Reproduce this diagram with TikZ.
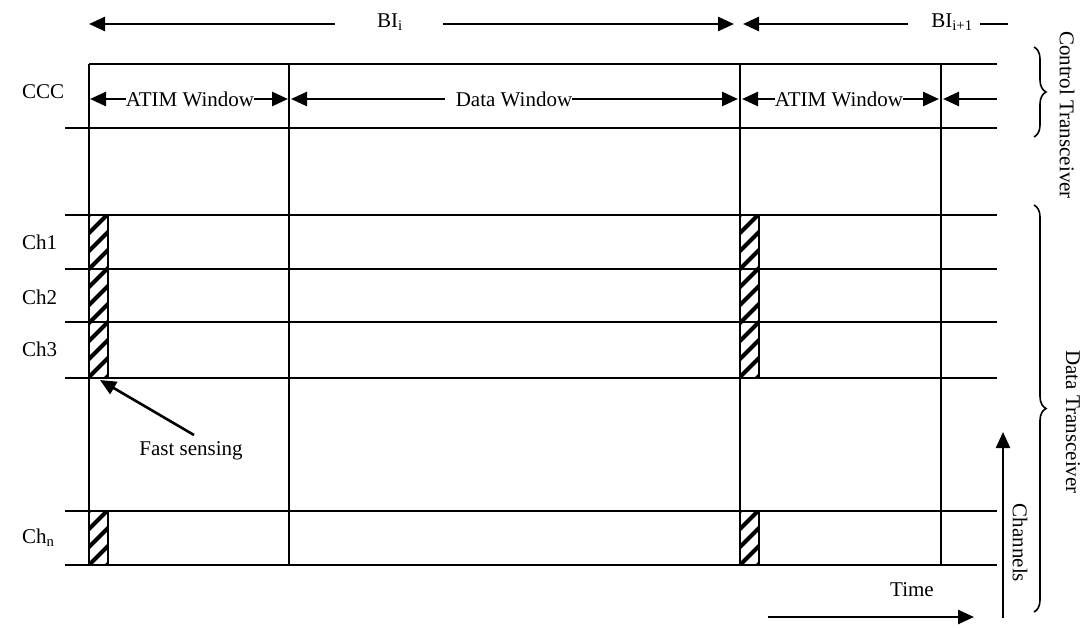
\documentclass[tikz,border=0pt]{standalone}
\usepackage{fontspec}
\setmainfont{Liberation Serif}
\usetikzlibrary{arrows.meta,decorations.pathreplacing}
\begin{document}
\begin{tikzpicture}[x=1pt,y=-1pt,
  grid/.style={line width=1.8pt},
  arr/.style={line width=2.6pt,-{Triangle[length=16pt,width=14pt]}},
  plainline/.style={line width=2.6pt},
  lbl/.style={font=\fontsize{21}{25}\selectfont, inner sep=0pt},
  brc/.style={line width=1.6pt, decorate, decoration={brace, amplitude=12pt}},
  hatch/.style={line width=4pt},
  hbox/.style={line width=1.8pt}]
\useasboundingbox (0,0) rectangle (1083,628);

% ---- grid: horizontal lines
\draw[grid] (89,64) -- (997,64);
\foreach \yy in {128,215,269,322,378,511,565}{
  \draw[grid] (65,\yy) -- (997,\yy);
}
% ---- vertical lines
\foreach \xx in {89,289,740,941}{
  \draw[grid] (\xx,64) -- (\xx,565);
}

% ---- hatched boxes
\foreach \bx in {89,740}{
  \foreach \ya/\yb in {215/378,511/565}{
    \begin{scope}
      \clip (\bx,\ya) rectangle (\bx+19,\yb);
      \foreach \k in {0,18,...,200}{
        \draw[hatch] (\bx-4,\ya+\k+4) -- ++(27,-27);
      }
    \end{scope}
    \draw[hbox] (\bx,\ya) rectangle (\bx+19,\yb);
  }
}

% ---- labels left
\node[lbl, anchor=west] (ccc) at (22,92) {CCC};
\node[lbl, anchor=west] (ch1) at (22,242) {Ch1};
\node[lbl, anchor=west] (ch2) at (22,297) {Ch2};
\node[lbl, anchor=west] (ch3) at (22,349) {Ch3};
\node[lbl, anchor=west] (chn) at (22,538) {Ch\textsubscript{n}};

% ---- BI arrows
\node[lbl] (bii) at (390,22) {BI\textsubscript{i}};
\node[lbl] (biii) at (952,22) {BI\textsubscript{i+1}};
\coordinate (b1s) at (335,24);
\coordinate (b1e) at (89,24);
\coordinate (b2s) at (443,24);
\coordinate (b2e) at (734,24);
\coordinate (b3s) at (908,24);
\coordinate (b3e) at (743,24);
\coordinate (b4s) at (980,24);
\coordinate (b4e) at (1008,24);
\draw[arr] (b1s) -- (b1e);
\draw[arr] (b2s) -- (b2e);
\draw[arr] (b3s) -- (b3e);
\draw[plainline] (b4s) -- (b4e);

% ---- CCC windows
\node[lbl] (atim1) at (190,99) {ATIM Window};
\node[lbl] (data1) at (514,99) {Data Window};
\node[lbl] (atim2) at (839,99) {ATIM Window};
\coordinate (a1l) at (90,99);
\coordinate (a1r) at (288,99);
\coordinate (d1l) at (291,99);
\coordinate (d1ls) at (445,99);
\coordinate (d1r) at (738,99);
\coordinate (a2l) at (742,99);
\coordinate (a2r) at (939,99);
\coordinate (a3s) at (997,99);
\coordinate (a3e) at (943,99);
\draw[arr] (atim1.west) -- (a1l);
\draw[arr] (atim1.east) -- (a1r);
\draw[arr] (d1ls) -- (d1l);
\draw[arr] (data1.east) -- (d1r);
\draw[arr] (atim2.west) -- (a2l);
\draw[arr] (atim2.east) -- (a2r);
\draw[arr] (a3s) -- (a3e);

% ---- fast sensing
\node[lbl] (fast) at (191,451) {Fast sensing};
\coordinate (fs) at (100,380);
\coordinate (fst) at (194,435);
\draw[arr] (fst) -- (fs);

% ---- time and channels
\node[lbl] (time) at (912,590) {Time};
\coordinate (t1) at (768,617);
\coordinate (t2) at (974,617);
\draw[arr] (t1) -- (t2);
\coordinate (c1) at (1003,618);
\coordinate (c2) at (1003,432);
\draw[arr] (c1) -- (c2);
\node[lbl, rotate=-90] (chan) at (1020,543) {Channels};

% ---- braces
\coordinate (cb1) at (1034,47);
\coordinate (cb2) at (1034,137);
\draw[brc] (cb1) -- (cb2);
\node[lbl, rotate=-90] (ctl) at (1067,115) {Control Transceiver};
\coordinate (db1) at (1034,205);
\coordinate (db2) at (1034,612);
\draw[brc] (db1) -- (db2);
\node[lbl, rotate=-90] (dtr) at (1073,422) {Data Transceiver};
\end{tikzpicture}
\end{document}
